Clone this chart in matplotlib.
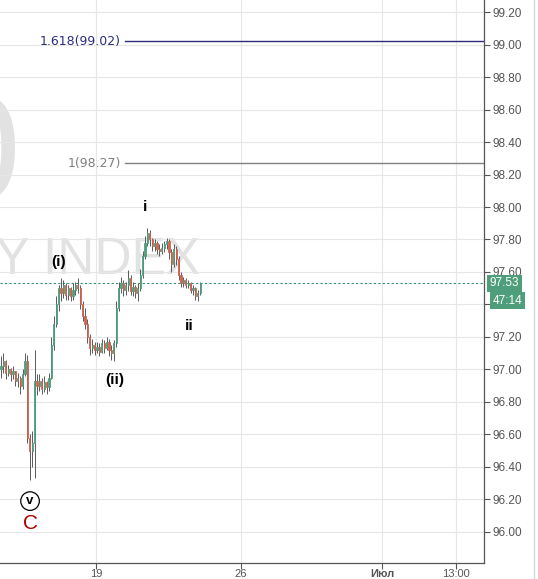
import numpy as np
import matplotlib.pyplot as plt
from matplotlib.lines import Line2D

plt.rcParams['font.family'] = ['Liberation Sans', 'DejaVu Sans']

# свечи (2-часовые), значения
close = [97.02, 97.05, 96.98, 97.00, 96.97, 96.99, 96.93, 96.95, 96.90, 96.97,
         97.05, 96.58, 96.50, 96.55, 96.93, 96.90, 96.93, 96.88, 96.92, 96.89,
         96.95, 97.15, 97.28, 97.40, 97.50, 97.47, 97.52, 97.46, 97.50, 97.45,
         97.49, 97.52, 97.50, 97.40, 97.33, 97.28, 97.20, 97.13, 97.15, 97.12,
         97.14, 97.11, 97.16, 97.13, 97.17, 97.12, 97.10, 97.16, 97.38, 97.50,
         97.53, 97.49, 97.52, 97.56, 97.48, 97.51, 97.47, 97.50, 97.58, 97.70,
         97.78, 97.84, 97.80, 97.76, 97.78, 97.74, 97.73, 97.75, 97.77, 97.79,
         97.72, 97.65, 97.74, 97.68, 97.58, 97.53, 97.55, 97.52, 97.53, 97.49,
         97.50, 97.45, 97.47, 97.53]
high = [97.08, 97.10, 97.06, 97.03, 97.01, 97.02, 96.99, 96.98, 96.96, 97.00,
        97.10, 97.09, 96.60, 96.62, 97.12, 96.97, 96.97, 96.95, 96.96, 96.93,
        96.98, 97.20, 97.33, 97.45, 97.52, 97.56, 97.55, 97.53, 97.52, 97.51,
        97.53, 97.54, 97.56, 97.52, 97.42, 97.38, 97.31, 97.22, 97.19, 97.17,
        97.17, 97.16, 97.19, 97.18, 97.20, 97.19, 97.15, 97.18, 97.42, 97.54,
        97.57, 97.55, 97.54, 97.61, 97.58, 97.54, 97.52, 97.53, 97.62, 97.73,
        97.82, 97.87, 97.86, 97.81, 97.80, 97.79, 97.77, 97.78, 97.79, 97.81,
        97.80, 97.74, 97.77, 97.76, 97.70, 97.60, 97.57, 97.56, 97.55, 97.54,
        97.52, 97.51, 97.49, 97.54]
low = [96.95, 96.98, 96.94, 96.96, 96.93, 96.94, 96.90, 96.89, 96.85, 96.88,
       96.96, 96.55, 96.32, 96.40, 96.33, 96.84, 96.87, 96.85, 96.86, 96.85,
       96.87, 96.94, 97.12, 97.26, 97.36, 97.42, 97.44, 97.43, 97.43, 97.42,
       97.43, 97.46, 97.47, 97.37, 97.30, 97.25, 97.16, 97.09, 97.10, 97.09,
       97.10, 97.08, 97.10, 97.10, 97.12, 97.08, 97.06, 97.05, 97.14, 97.36,
       97.47, 97.45, 97.46, 97.48, 97.46, 97.45, 97.44, 97.42, 97.48, 97.56,
       97.68, 97.76, 97.76, 97.73, 97.73, 97.71, 97.70, 97.71, 97.72, 97.74,
       97.68, 97.60, 97.63, 97.64, 97.55, 97.51, 97.51, 97.50, 97.50, 97.47,
       97.46, 97.43, 97.42, 97.46]
first_open = 97.00
last_price = 97.53
timer = '47:14'

fib_levels = [99.02, 98.27]
fib_labels = ['1.618(99.02)', '1(98.27)']
fib_colors = ['#2b2b80', '#808080']

xtick_pos = [39.6, 100.0, 158.75, 189.6]
xtick_labels = ['19', '26', 'Июл', '13:00']
yticks = np.round(np.arange(96.0, 99.21, 0.2), 2)

close = np.array(close)
high = np.array(high)
low = np.array(low)
opn = np.concatenate([[first_open], close[:-1]])
x = np.arange(len(close))

fig = plt.figure(figsize=(5.38, 5.79), dpi=100)
ax = fig.add_axes([0, 16 / 579, 484 / 538, 563 / 579])

up = '#4f9e7e'
down = '#d0624e'
cols = np.where(close >= opn, up, down)

ax.vlines(x, low, high, color='#5a5a5a', lw=0.7, zorder=3)
ax.bar(x, close - opn, bottom=opn, width=0.5, color=cols, edgecolor=cols,
       lw=0.6, zorder=4)

# водяной знак
ax.text(8.3, 98.28, 'DXY, 60', fontsize=110, color='#e2e2e2', ha='right',
        va='center', zorder=0, clip_on=True)
ax.text(82.9, 97.67, 'U.S. DOLLAR CURRENCY INDEX', fontsize=37,
        color='#e2e2e2', ha='right', va='center', zorder=0, clip_on=True)

# уровни Фибоначчи
for lvl, lab, c in zip(fib_levels, fib_labels, fib_colors):
    ax.plot([51.7, 202], [lvl, lvl], color=c, lw=1.0, zorder=2)
    ax.text(50.0, lvl, lab, color=c, fontsize=9, ha='right', va='center',
            family='DejaVu Sans')

ax.axhline(last_price, color='#2f8f6f', lw=0.8, ls=(0, (2, 2)), zorder=2)

# разметка волн
ax.text(60.0, 98.0, 'i', fontsize=11, fontweight='bold', ha='center', va='center')
ax.text(23.8, 97.66, '(i)', fontsize=11, fontweight='bold', ha='center', va='center')
ax.text(47.5, 96.935, '(ii)', fontsize=11, fontweight='bold', ha='center', va='center')
ax.text(78.3, 97.27, 'ii', fontsize=11, fontweight='bold', ha='center', va='center')
ax.text(12.1, 96.19, 'v', fontsize=9.5, fontweight='bold', ha='center', va='center',
        bbox=dict(boxstyle='circle,pad=0.25', fc='white', ec='black', lw=0.9))
ax.text(12.1, 96.05, 'C', fontsize=15, color='#b00000', ha='center', va='center')

ax.set_xlim(-0.42, 201.25)
ax.set_ylim(95.809, 99.274)

ax.yaxis.tick_right()
ax.set_yticks(yticks)
ax.set_yticklabels(['%.2f' % v for v in yticks])
ax.set_xticks(xtick_pos)
ax.set_xticklabels(xtick_labels)
ax.get_xticklabels()[2].set_fontweight('bold')
ax.tick_params(axis='both', direction='out', length=4, color='#555555',
               labelcolor='#555555', labelsize=8.5, width=0.8)
ax.tick_params(axis='y', pad=2)
ax.tick_params(axis='x', pad=0.5, labelsize=8)

ax.grid(True, color='#e6e6e6', lw=0.8, zorder=0)
ax.set_axisbelow(True)
for s in ['top', 'left']:
    ax.spines[s].set_visible(False)
for s in ['right', 'bottom']:
    ax.spines[s].set_color('#555555')
    ax.spines[s].set_linewidth(0.9)

# метки цены и таймера на шкале
ax.annotate('%.2f' % last_price, xy=(1.0, last_price),
            xycoords=('axes fraction', 'data'), xytext=(4, 0),
            textcoords='offset points', ha='left', va='center', fontsize=8.5,
            color='white',
            bbox=dict(boxstyle='square,pad=0.22', fc='#4f9e7b', ec='none'))
ax.annotate(timer, xy=(1.0, last_price), xycoords=('axes fraction', 'data'),
            xytext=(6.5, -12.5), textcoords='offset points', ha='left',
            va='center', fontsize=8.5, color='white',
            bbox=dict(boxstyle='square,pad=0.22', fc='#4f9e7b', ec='none'))

fig.add_artist(Line2D([534 / 538, 534 / 538], [0, 1], color='#d8d8d8', lw=1))

fig.savefig('out.png', dpi=100)
